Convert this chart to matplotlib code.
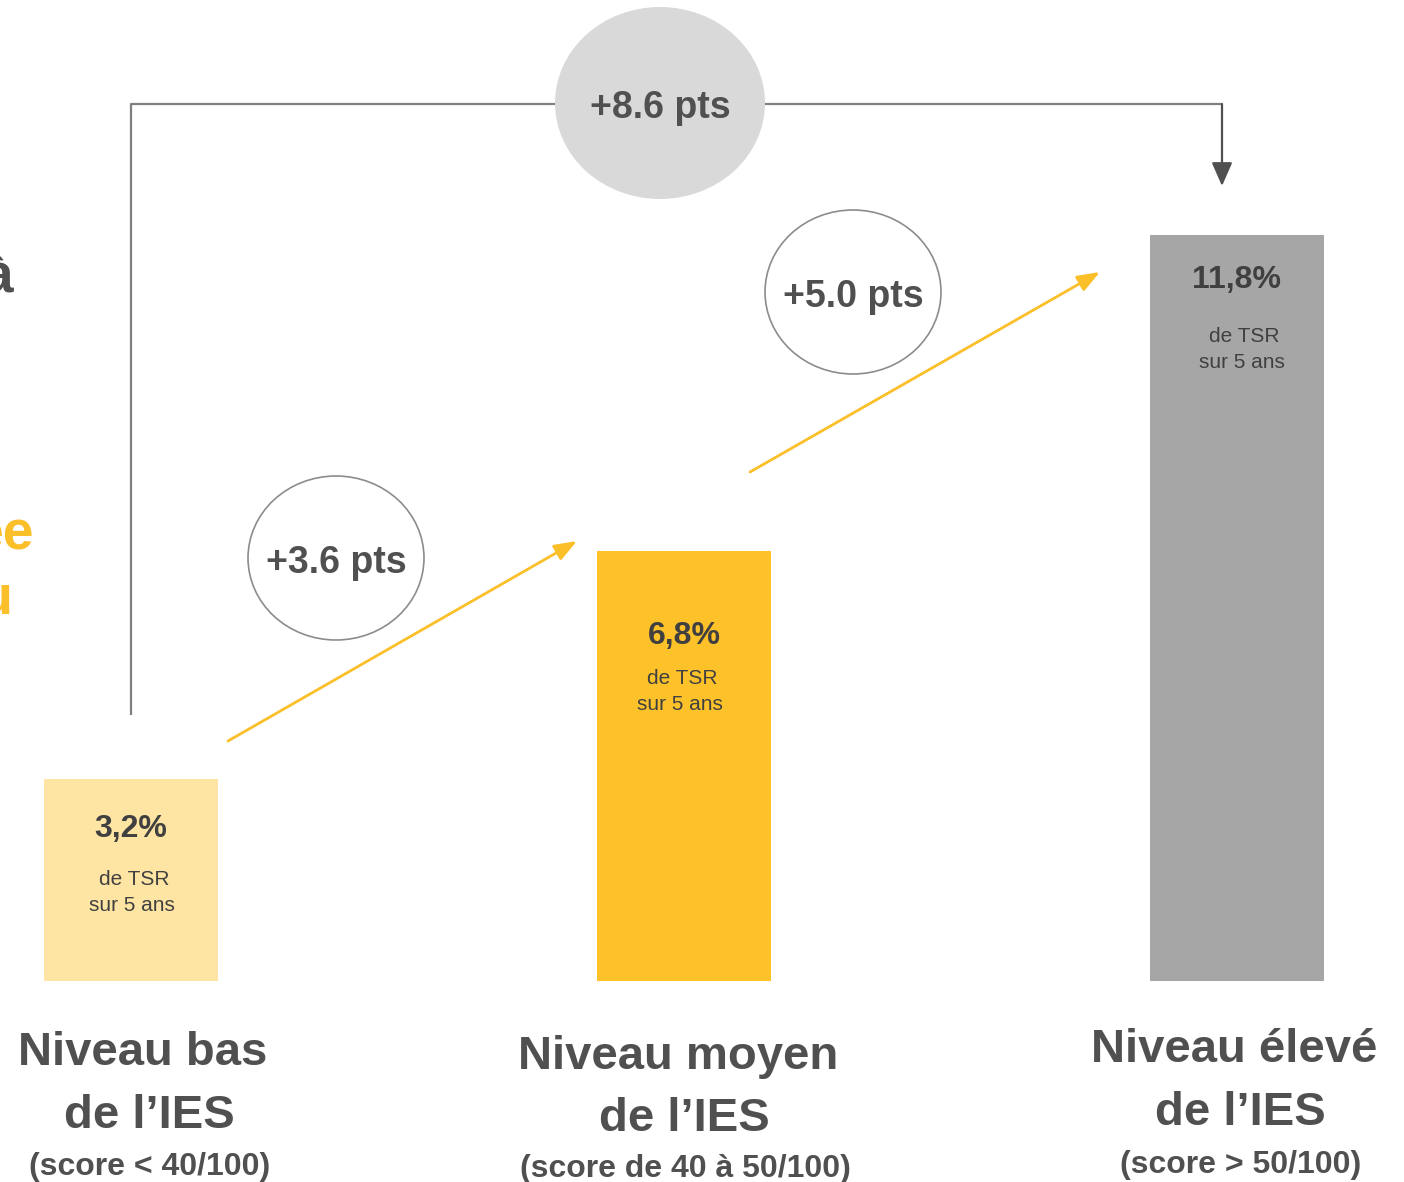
import matplotlib
matplotlib.use("Agg")
import matplotlib.pyplot as plt
from matplotlib.patches import Ellipse

plt.rcParams['font.family'] = ['Liberation Sans', 'DejaVu Sans']

# data
categories = ["Niveau bas\nde l\u2019IES", "Niveau moyen\nde l\u2019IES", "Niveau \u00e9lev\u00e9\nde l\u2019IES"]
scores = ["(score < 40/100)", "(score de 40 \u00e0 50/100)", "(score > 50/100)"]
tsr = [3.2, 6.8, 11.8]
value_labels = ["3,2%", "6,8%", "11,8%"]
gains = ["+3.6 pts", "+5.0 pts"]
total_gain = "+8.6 pts"
bar_colors = ["#FFE5A3", "#FDC12A", "#A6A6A6"]

DARK = "#505050"
YEL = "#FBBF2A"

# pixel helpers (figure is 1404x1182, axes fills it)
PX_X, PX_Y = 553.0, 63.2
def X(px):
    return (px - 131) / PX_X
def Y(py):
    return (981 - py) / PX_Y

fig = plt.figure(figsize=(14.04, 11.82), dpi=100)
ax = fig.add_axes([0, 0, 1, 1])
ax.set_xlim(X(0), X(1404))
ax.set_ylim(Y(1182), Y(0))
ax.axis('off')

xs = list(range(len(tsr)))
ax.bar(xs, tsr, width=174 / PX_X, color=bar_colors, zorder=2)

# labels in bars
offs = [(50, 101, 127), (85, 127, 153), (45, 101, 127)]
sub_dx = [(3, 1), (-2, -4), (7, 5)]
for x, v, lab, o, d in zip(xs, tsr, value_labels, offs, sub_dx):
    ax.text(x, v - o[0] / PX_Y, lab, ha='center', va='center', fontsize=23,
            fontweight='bold', color='#404040', zorder=3)
    ax.text(x + d[0] / PX_X, v - o[1] / PX_Y, "de TSR", ha='center', va='center',
            fontsize=15, color='#404040', zorder=3)
    ax.text(x + d[1] / PX_X, v - o[2] / PX_Y, "sur 5 ans", ha='center', va='center',
            fontsize=15, color='#404040', zorder=3)

# category labels
cat_dx = [(12, 18, 19), (-6, 0, 1), (-3, 3, 4)]
cat_y = [(1053, 1116, 1167), (1057, 1119, 1169), (1050, 1113, 1165)]
for x, c, s, dx, cy in zip(xs, categories, scores, cat_dx, cat_y):
    l1, l2 = c.split("\n")
    ax.text(x + dx[0] / PX_X, Y(cy[0]), l1, ha='center', va='center',
            fontsize=34, fontweight='bold', color=DARK)
    ax.text(x + dx[1] / PX_X, Y(cy[1]), l2, ha='center', va='center',
            fontsize=34, fontweight='bold', color=DARK)
    ax.text(x + dx[2] / PX_X, Y(cy[2]), s, ha='center', va='center',
            fontsize=23, fontweight='bold', color=DARK)

# bracket connecting low to high
ax.plot([0, 0, X(1222)], [Y(715), Y(104), Y(104)], color='#7F7F7F', lw=1.6,
        solid_capstyle='butt', zorder=1)
ax.annotate("", xy=(X(1222), Y(186)), xytext=(X(1222), Y(104)),
            arrowprops=dict(arrowstyle='-|>,head_length=0.8,head_width=0.35',
                            mutation_scale=18, color=DARK, lw=1.6,
                            shrinkA=0, shrinkB=0))
ax.add_patch(Ellipse((X(660), Y(103)), 210 / PX_X, 192 / PX_Y,
                     facecolor='#D9D9D9', edgecolor='none', zorder=4))
ax.text(X(660), Y(108), total_gain, ha='center', va='center', fontsize=27,
        fontweight='bold', color=DARK, zorder=5)

# yellow step arrows
for (x0, y0, x1, y1) in [(228, 741, 577, 541), (750, 472, 1100, 272)]:
    ax.annotate("", xy=(X(x1), Y(y1)), xytext=(X(x0), Y(y0)),
                arrowprops=dict(arrowstyle='-|>,head_length=0.8,head_width=0.3',
                                mutation_scale=17, color=YEL, lw=2,
                                shrinkA=0, shrinkB=0))

for (cx, cy), g in zip([(336, 558), (853, 292)], gains):
    ax.add_patch(Ellipse((X(cx), Y(cy)), 176 / PX_X, 164 / PX_Y,
                         facecolor='white', edgecolor='#8C8C8C', lw=1.2, zorder=4))
    ax.text(X(cx), Y(cy + 5), g, ha='center', va='center', fontsize=27,
            fontweight='bold', color=DARK, zorder=5)

# clipped text fragments on the left edge (cut off in the original too)
ax.text(X(13), Y(277), "\u00e0", ha='right', va='center', fontsize=40,
        fontweight='bold', color=DARK)
ax.text(X(34), Y(536), "ee", ha='right', va='center', fontsize=40,
        fontweight='bold', color=YEL)
ax.text(X(13), Y(600), "u", ha='right', va='center', fontsize=40,
        fontweight='bold', color=YEL)

plt.savefig('out.png', dpi=100)
plt.close()
